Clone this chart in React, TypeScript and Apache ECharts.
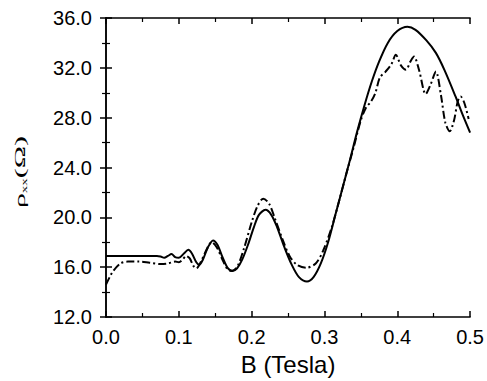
import React, { useEffect, useRef } from "react";
import * as echarts from "echarts";

const bSolid = [0, 0.07, 0.075, 0.08, 0.085, 0.09, 0.095, 0.1, 0.107, 0.113, 0.118, 0.124, 0.128, 0.133, 0.14, 0.147, 0.153, 0.16, 0.167, 0.174, 0.18, 0.187, 0.195, 0.203, 0.21, 0.219, 0.227, 0.235, 0.245, 0.255, 0.265, 0.276, 0.285, 0.295, 0.305, 0.315, 0.325, 0.335, 0.345, 0.355, 0.365, 0.375, 0.387, 0.4, 0.414, 0.425, 0.44, 0.453, 0.465, 0.48, 0.49, 0.5];
const rhoSolid = [16.9, 16.9, 16.85, 16.75, 16.9, 17.05, 16.8, 16.75, 17.1, 17.4, 17.1, 16.4, 16.2, 16.6, 17.6, 18.15, 17.8, 16.8, 15.95, 15.7, 15.9, 16.6, 17.8, 19.2, 20.2, 20.6, 20.2, 19.2, 17.6, 16.2, 15.2, 14.85, 15.2, 16.3, 18.0, 20.2, 22.4, 24.6, 26.9, 29.0, 30.9, 32.5, 34.0, 34.95, 35.3, 35.05, 34.2, 33.2, 31.8, 29.7, 28.2, 26.8];

const bDash = [0, 0.005, 0.01, 0.02, 0.03, 0.045, 0.06, 0.075, 0.085, 0.095, 0.1, 0.105, 0.11, 0.115, 0.12, 0.124, 0.13, 0.138, 0.145, 0.152, 0.16, 0.166, 0.172, 0.18, 0.19, 0.2, 0.208, 0.216, 0.224, 0.232, 0.242, 0.252, 0.262, 0.275, 0.288, 0.298, 0.31, 0.32, 0.33, 0.34, 0.35, 0.357, 0.364, 0.37, 0.376, 0.384, 0.392, 0.398, 0.405, 0.412, 0.418, 0.423, 0.43, 0.439, 0.446, 0.453, 0.46, 0.466, 0.472, 0.478, 0.483, 0.487, 0.492, 0.498];
const rhoDash = [14.6, 15.2, 15.7, 16.3, 16.45, 16.45, 16.35, 16.25, 16.3, 16.45, 16.4, 16.6, 16.9, 16.7, 16.1, 15.9, 16.4, 17.4, 18.0, 17.6, 16.6, 15.9, 15.7, 16.0, 17.6, 19.6, 20.9, 21.5, 21.1, 19.9, 18.3, 16.9, 16.2, 15.95, 16.3, 17.3, 19.2, 21.3, 23.5, 25.6, 27.8, 28.8, 29.3, 30.0, 31.2, 31.7, 32.3, 33.05, 32.2, 31.85, 32.5, 32.9, 31.8, 29.9, 30.7, 31.7, 29.8, 27.6, 26.9, 27.8, 29.3, 29.7, 29.2, 27.9];

const sansFont = "'Liberation Sans', Arial, Helvetica, sans-serif";
const serifFont = "'Liberation Serif', 'Times New Roman', serif";

export default function App() {
  const ref = useRef<HTMLDivElement>(null);
  useEffect(() => {
    if (!ref.current) return;
    const chart = echarts.init(ref.current, null, { renderer: "svg" });
    const axisLine = { show: true, lineStyle: { color: "#000", width: 1.5 } };
    const tick = { inside: true, length: 6, lineStyle: { color: "#000", width: 1.5 } };
    const minor = { show: true, splitNumber: 2, length: 4, lineStyle: { color: "#000", width: 1.2 } };
    chart.setOption({
      animation: false,
      backgroundColor: "#fff",
      grid: { left: 106, top: 18, right: 16, bottom: 62, containLabel: false },
      xAxis: [
        {
          type: "value",
          min: 0,
          max: 0.5,
          interval: 0.1,
          position: "bottom",
          axisLine,
          axisTick: tick,
          minorTick: minor,
          splitLine: { show: false },
          axisLabel: {
            color: "#000",
            fontSize: 20,
            fontFamily: sansFont,
            margin: 10,
            formatter: (v: number) => v.toFixed(1),
          },
          name: "B (Tesla)",
          nameLocation: "middle",
          nameGap: 35,
          nameTextStyle: { color: "#000", fontSize: 24, fontFamily: sansFont },
        },
        {
          type: "value",
          min: 0,
          max: 0.5,
          interval: 0.1,
          position: "top",
          axisLine,
          axisTick: tick,
          minorTick: minor,
          splitLine: { show: false },
          axisLabel: { show: false },
        },
      ],
      yAxis: [
        {
          type: "value",
          min: 12,
          max: 36,
          interval: 4,
          position: "left",
          axisLine,
          axisTick: tick,
          minorTick: minor,
          splitLine: { show: false },
          axisLabel: {
            color: "#000",
            fontSize: 20,
            fontFamily: sansFont,
            margin: 14,
            formatter: (v: number) => v.toFixed(1),
          },
        },
        {
          type: "value",
          min: 12,
          max: 36,
          interval: 4,
          position: "right",
          axisLine,
          axisTick: tick,
          minorTick: minor,
          splitLine: { show: false },
          axisLabel: { show: false },
        },
      ],
      graphic: [
        {
          type: "text",
          x: 20,
          y: 172,
          rotation: Math.PI / 2,
          scaleX: 1.0,
          scaleY: 0.52,
          style: {
            text: "{a|ρ}{b|xx}{a|(Ω)}",
            align: "center",
            verticalAlign: "middle",
            fill: "#000",
            rich: {
              a: { fontSize: 30, fontFamily: serifFont, fill: "#000", verticalAlign: "bottom" },
              b: { fontSize: 15, fontFamily: serifFont, fill: "#000", verticalAlign: "bottom" },
            },
          },
        },
      ],
      series: [
        {
          type: "line",
          data: bSolid.map((b, i) => [b, rhoSolid[i]]),
          showSymbol: false,
          smooth: 0.3,
          lineStyle: { color: "#000", width: 2 },
          z: 3,
        },
        {
          type: "line",
          data: bDash.map((b, i) => [b, rhoDash[i]]),
          showSymbol: false,
          smooth: 0.3,
          lineStyle: { color: "#000", width: 2, type: [8, 3, 2, 3] },
          z: 2,
        },
      ],
    });
    return () => chart.dispose();
  }, []);
  return (
    <div
      ref={ref}
      style={{ width: 487, height: 381, position: "fixed", left: 0, top: 0 }}
    />
  );
}
